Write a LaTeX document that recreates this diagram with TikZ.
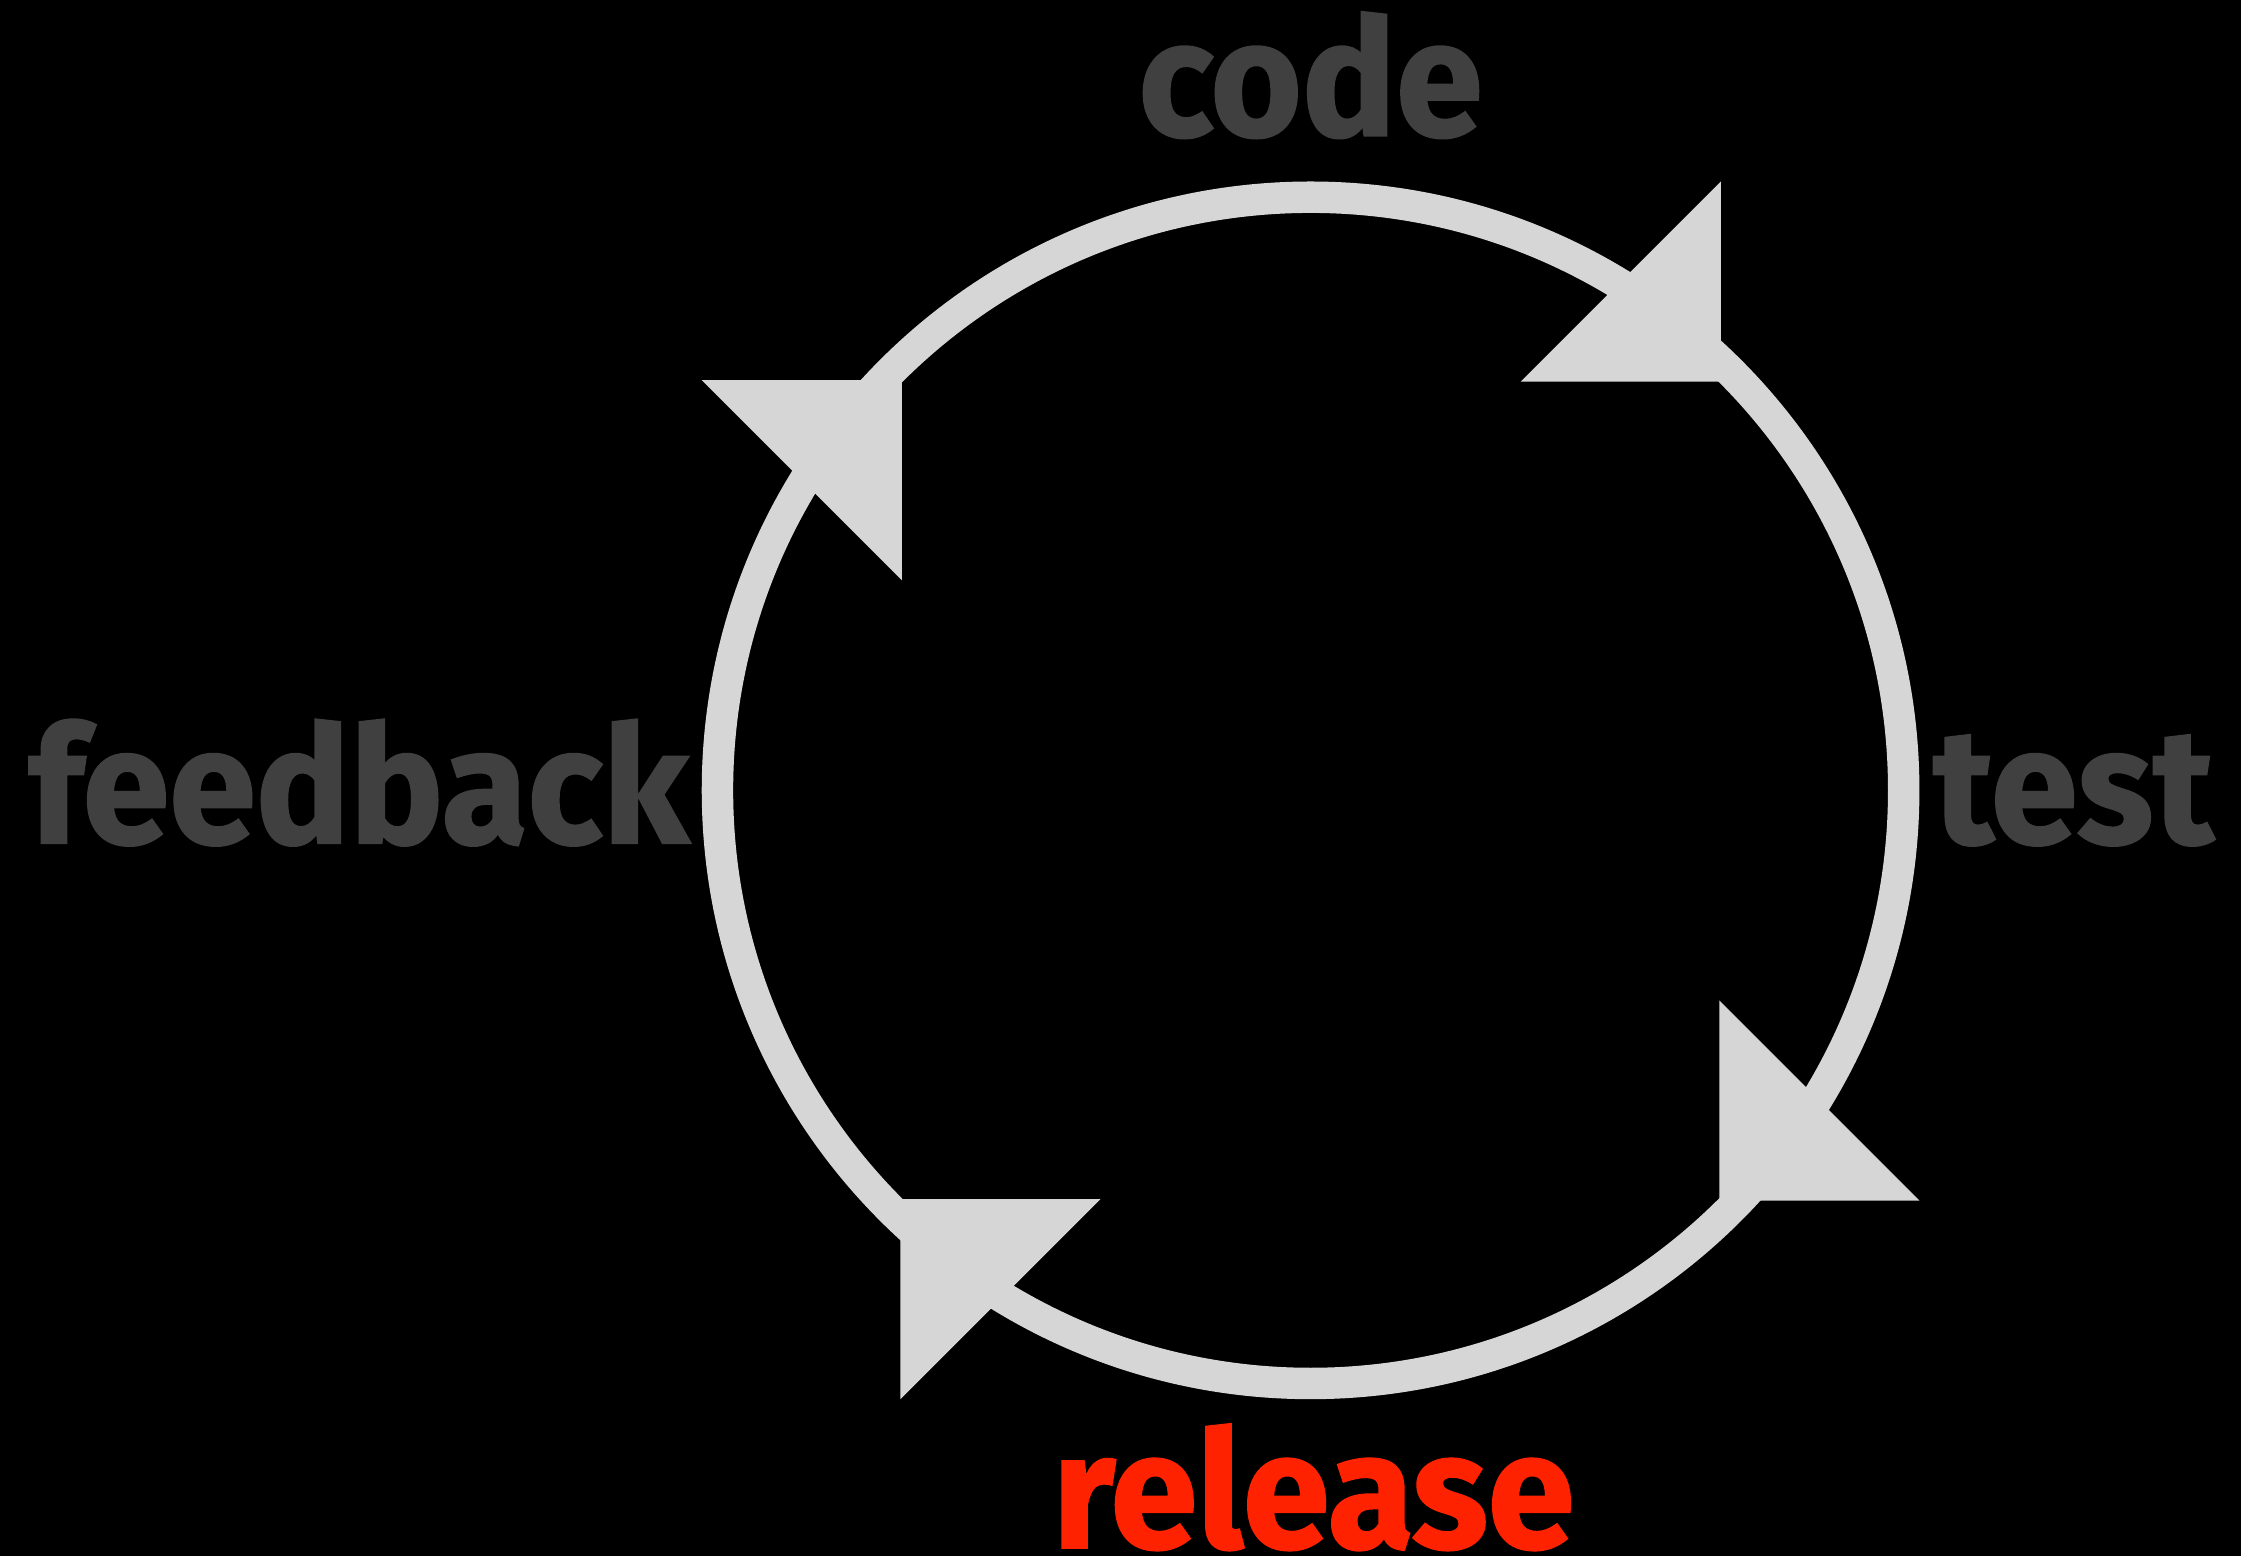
\documentclass[tikz,border=0pt]{standalone}
\usepackage{fontspec}
\setmainfont{Fira Sans}[BoldFeatures={FakeBold=1.2}]
\definecolor{ringgray}{HTML}{D6D6D6}
\definecolor{labelgray}{HTML}{404040}
\definecolor{hotred}{HTML}{FF2200}
\tikzset{
  lbl/.style={inner sep=0pt, text=labelgray, font=\fontsize{32.5}{32.5}\selectfont\bfseries},
  hot/.style={lbl, text=hotred},
  tip/.style={fill=ringgray}
}
\newcommand{\narrow}[1]{\scalebox{0.96}[1]{#1}}
\begin{document}
\begin{tikzpicture}
        \fill[black] (-9.17,-5.36) rectangle (6.51,5.53);
        \useasboundingbox (-9.17,-5.36) rectangle (6.51,5.53);
        \def\ringradius{4.15}
        \def\tiplength{1.40}

        \draw[color=ringgray, line width=0.22cm] (0,0) circle[radius=\ringradius];

        % arrow tips, clockwise
        \foreach \a in {0,-90,-180,-270}{
            \fill[tip, rotate=\a] (2.87,2.86) -- ++(0,\tiplength) -- ++(-\tiplength,-\tiplength) -- cycle;
        }

        \node[lbl, anchor=base] (code) at (0,4.58) {\narrow{code}};
        \node[lbl, anchor=base west] (test) at (4.35,-0.37) {\narrow{test}};
        \node[hot, anchor=base] (release) at (0.02,-5.30) {\narrow{release}};
        \node[lbl, anchor=base east] (feedback) at (-4.34,-0.37) {\narrow{feedback}};

    \end{tikzpicture}
\end{document}
